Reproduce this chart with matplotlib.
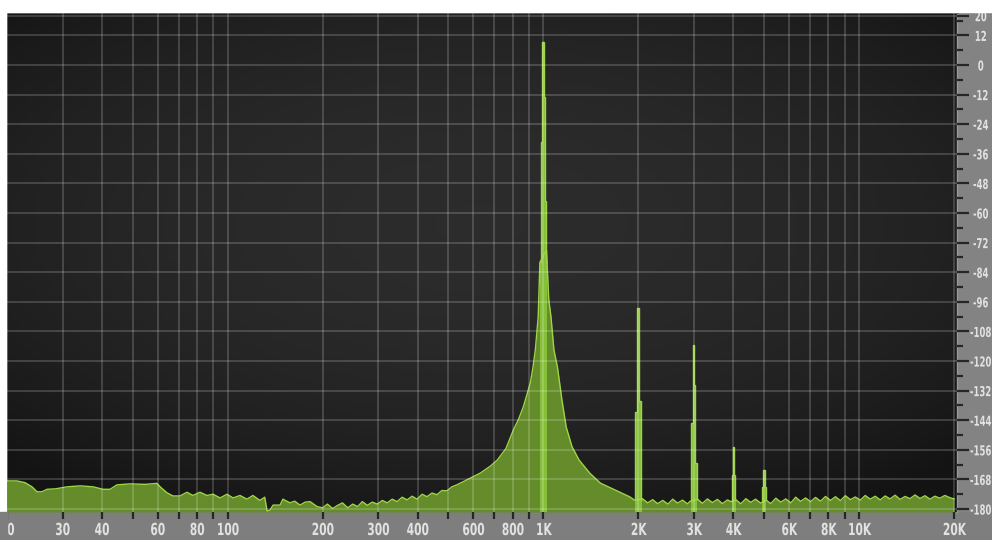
import numpy as np
import matplotlib
matplotlib.use("Agg")
import matplotlib.pyplot as plt
import matplotlib.patheffects as pe
from matplotlib.patches import Rectangle
from matplotlib.colors import LinearSegmentedColormap
from matplotlib.ticker import NullLocator
from matplotlib.transforms import Affine2D

# spectrum: frequency (Hz) / level (dB)
low_freq = [20, 21.5, 22.8, 24.0, 24.9, 25.8, 26.8, 28.5, 31.0, 34.1, 37.5, 40.3, 42.4,
            44.6, 49.1, 54.7, 59.7, 61.1, 64.2, 67.1, 70.6, 74.3, 77.6, 81.7, 86.0, 89.9,
            94.6, 99.5, 104, 109.4, 115.1, 120.2, 126.5, 131, 133.3, 136, 139.3, 146.5,
            149.6, 157.5, 163, 169.5, 176, 182.4, 191.9, 200, 207, 215, 223, 231, 240,
            249, 258, 267, 277, 287, 298, 309, 320, 332, 344, 357, 370, 384, 398, 413,
            428, 444, 460, 477, 495, 513, 532, 556]
low_db = [-168.6, -168.6, -169.3, -171.0, -173.0, -173.0, -172.0, -171.8, -171.0, -170.6,
          -171.0, -172.0, -172.0, -170.2, -169.8, -170.0, -169.6, -171.0, -173.4, -174.7,
          -174.7, -173.2, -174.5, -173.2, -174.5, -174.0, -175.5, -174.0, -175.5, -174.5,
          -176.0, -174.5, -176.5, -175.2, -180.8, -180.5, -178.4, -178.4, -176.0, -177.5,
          -176.8, -178.4, -177.2, -177.0, -179.0, -179.5, -178.0, -179.8, -178.5, -177.5,
          -179.5, -178.0, -179.0, -177.0, -178.5, -177.2, -178.0, -176.5, -177.5, -176.0,
          -177.0, -175.2, -176.3, -174.8, -176.0, -174.0, -175.0, -173.5, -174.2, -172.5,
          -172.6, -171.0, -170.2, -169.0]

skirt_freq = [586, 632, 681, 715, 761, 803, 835, 864, 887, 909, 927, 943, 963, 975,
              1023, 1040, 1057, 1080, 1108, 1145, 1181, 1233, 1297, 1404, 1516, 1637,
              1768, 1874]
skirt_db = [-167.5, -165.4, -162.5, -160.1, -155.5, -148.0, -143.5, -138.6, -133.5,
            -128.9, -122.5, -115.5, -102.0, -80.0, -75.0, -95.0, -102.0, -115.5, -122.4,
            -135.8, -146.7, -154.8, -160.1, -165.5, -169.5, -171.5, -173.5, -175.0]

high_freq = [1900, 1950, 2060, 2140, 2220, 2300, 2390, 2480, 2570, 2660, 2760, 2860, 2920,
             3080, 3190, 3310, 3430, 3560, 3690, 3830, 3930, 4070, 4220, 4380, 4540, 4700,
             4880, 5080, 5250, 5450, 5650, 5860, 6080, 6300, 6530, 6770, 7020, 7280, 7550,
             7830, 8120, 8420, 8730, 9050, 9390, 9730, 10090, 10460, 10850, 11250, 11670,
             12100, 12540, 13010, 13490, 13990, 14500, 15040, 15600, 16170, 16770, 17390,
             18030, 18700, 19390, 20000]
high_db = [-175.5, -176.5, -175.8, -177.5, -176.2, -177.8, -176.5, -178.0, -176.0, -177.6,
           -176.4, -177.9, -176.8, -176.0, -177.7, -175.9, -177.4, -176.1, -177.8, -176.3,
           -177.0, -176.2, -177.9, -175.8, -177.3, -176.0, -177.6, -176.4, -177.8, -175.6,
           -177.2, -175.9, -177.5, -175.2, -176.9, -175.5, -177.0, -175.3, -176.8, -174.9,
           -176.5, -175.0, -176.6, -174.6, -176.2, -175.1, -176.4, -174.5, -176.0, -174.8,
           -176.3, -174.7, -175.9, -174.4, -176.1, -174.9, -175.8, -174.3, -175.7, -174.6,
           -176.0, -174.8, -175.6, -174.5, -175.4, -175.9]

# FFT bins of the 1 kHz tone and its harmonics (bin edges in Hz, level in dB)
fund_edges = [975, 979.3, 987.9, 1006.7, 1015.6, 1023, 1030]
fund_db = [-80.0, -31.0, 9.4, -12.8, -55.0, -80.0]
h2_edges = [1950, 1955, 1984, 2013, 2043, 2048]
h2_db = [-176.5, -140.5, -98.5, -136.0, -176.5]
h3_edges = [2925, 2930, 2972, 2995, 3016, 3067, 3072]
h3_db = [-177.0, -145.0, -113.5, -129.7, -161.3, -176.5]
h4_edges = [3946, 3951, 3980, 4027, 4056, 4061]
h4_db = [-177.0, -166.2, -154.7, -166.2, -176.5]
h5_edges = [4931, 4936, 4973, 5035, 5061, 5066]
h5_db = [-177.0, -170.9, -164.2, -170.9, -176.5]

x_ticks = [20, 30, 40, 50, 60, 70, 80, 90, 100, 200, 300, 400, 500, 600, 700, 800, 900,
           1000, 2000, 3000, 4000, 5000, 6000, 7000, 8000, 9000, 10000, 20000]
x_labels = ['20', '30', '40', '', '60', '', '80', '', '100', '200', '300', '400', '',
            '600', '', '800', '', '1K', '2K', '3K', '4K', '', '6K', '', '8K', '', '10K', '20K']
y_major = [20, 12, 0, -12, -24, -36, -48, -60, -72, -84, -96, -108, -120, -132, -144,
           -156, -168, -180]
y_minor = [18, 6, -6, -18, -30, -42, -54, -66, -78, -90, -102, -114, -126, -138, -150,
           -162, -174]


class Squeeze(pe.AbstractPathEffect):
    """Narrow the glyphs horizontally, like the analyser's condensed font."""

    def __init__(self, sx):
        super().__init__()
        self.sx = sx

    def draw_path(self, renderer, gc, tpath, affine, rgbFace=None):
        ext = tpath.get_extents()
        cx = (ext.x0 + ext.x1) / 2
        squeeze = Affine2D().translate(-cx, 0).scale(self.sx, 1).translate(cx, 0)
        renderer.draw_path(gc, tpath, squeeze + affine, rgbFace)


plt.rcParams['font.family'] = ['DejaVu Sans']
plt.rcParams['font.weight'] = 'bold'

W, H = 992, 540
floor = -181.2
fill_c = '#658c2b'
edge_c = '#9fd445'
spike_c = '#86c03a'
panel_c = '#7e7e7e'
text_c = '#e2e2e2'

fig = plt.figure(figsize=(W / 100, H / 100), dpi=100, facecolor='white')
rect = [6 / W, 28 / H, 951 / W, 500 / H]

# grey frame round the display
fig.add_artist(Rectangle((957 / W, 0), 35 / W, 528 / H, transform=fig.transFigure,
                         color='#838383', zorder=-2))
fig.add_artist(Rectangle((0, 0), 1, 28 / H, transform=fig.transFigure,
                         color=panel_c, zorder=-2))

# dark screen with a soft vignette
bg = fig.add_axes(rect, zorder=-1)
yy, xx = np.mgrid[-1:1:120j, -1:1:240j]
shade = 1 - 0.45 * (xx ** 2 * 0.8 + (yy + 0.15) ** 2)
screen = LinearSegmentedColormap.from_list('screen', ['#131313', '#2c2c2c'])
bg.imshow(shade, cmap=screen, aspect='auto', extent=[0, 1, 0, 1], vmin=0.2, vmax=1)
bg.axis('off')

ax = fig.add_axes(rect)
ax.set_facecolor('none')
ax.set_xscale('log')

freq = low_freq + skirt_freq + high_freq
db = low_db + skirt_db + high_db
ax.fill_between(freq, db, floor, color=fill_c, lw=0, zorder=1)
ax.plot(freq, db, color=edge_c, lw=1, zorder=2)

for edges, vals in [(fund_edges, fund_db), (h2_edges, h2_db), (h3_edges, h3_db),
                    (h4_edges, h4_db), (h5_edges, h5_db)]:
    ax.stairs(vals, edges, baseline=floor, fill=True, color=spike_c, lw=0, zorder=1.5)
    ax.stairs(vals, edges, baseline=None, color=edge_c, lw=1, zorder=2)

ax.set_xlim(19.85, 20430)
ax.set_ylim(floor, 21.5)

ax.set_xticks(x_ticks, x_labels)
ax.xaxis.set_minor_locator(NullLocator())
ax.yaxis.tick_right()
ax.set_yticks(y_major, [str(v) for v in y_major])
ax.set_yticks(y_minor, minor=True)

ax.tick_params(axis='x', length=5, width=1.6, color='#262626', pad=1.5,
               labelsize=12, labelcolor=text_c)
ax.tick_params(axis='y', which='major', length=8.5, width=1.6, color='#262626', pad=8.6,
               labelsize=9.9, labelcolor=text_c)
ax.tick_params(axis='y', which='minor', length=4.5, width=1.6, color='#262626')

for lbl in ax.get_xticklabels():
    lbl.set_path_effects([Squeeze(0.64)])
for lbl in ax.get_yticklabels():
    lbl.set_horizontalalignment('center')
    lbl.set_path_effects([Squeeze(0.62)])

ax.set_axisbelow(False)
ax.grid(True, which='major', color='white', alpha=0.2, lw=1.2)

for side in ['left', 'bottom']:
    ax.spines[side].set_visible(False)
ax.spines['top'].set_color('#4a4a4a')
ax.spines['top'].set_linewidth(2)
ax.spines['right'].set_color('#999999')
ax.spines['right'].set_linewidth(1)

# the screenshot is cropped: white strip on top, leading digit of "20" cut away
fig.add_artist(Rectangle((0, 528 / H), 1, 12 / H, transform=fig.transFigure,
                         color='white', zorder=5))
fig.add_artist(Rectangle((0, 28 / H), 6 / W, 500 / H, transform=fig.transFigure,
                         color='white', zorder=5))
fig.add_artist(Rectangle((0, 0), 6.5 / W, 28 / H, transform=fig.transFigure,
                         color=panel_c, zorder=5))

fig.savefig('out.png', dpi=100, facecolor='white')
